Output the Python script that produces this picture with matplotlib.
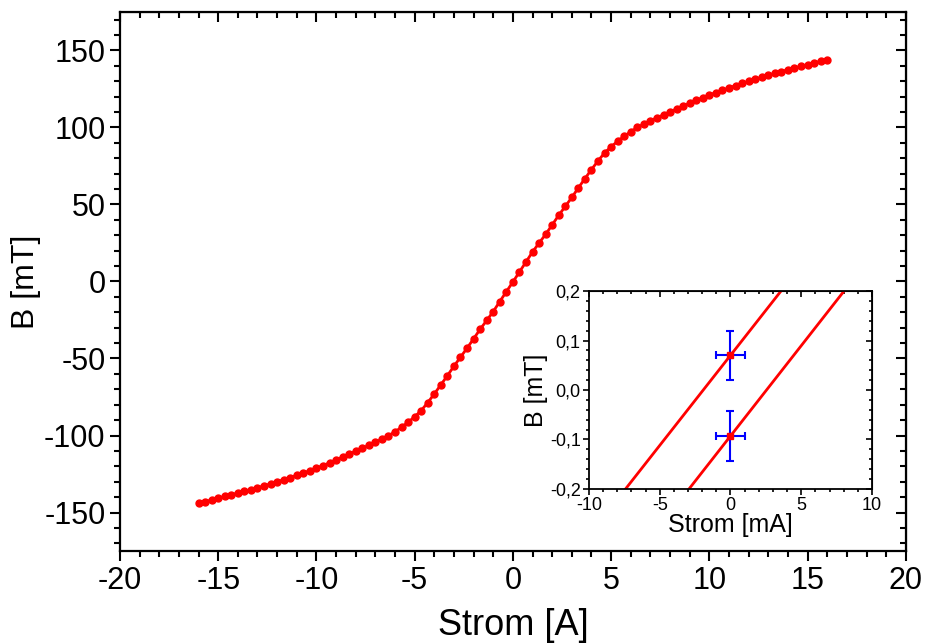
import matplotlib
matplotlib.use("Agg")
import matplotlib.pyplot as plt
from matplotlib.ticker import MultipleLocator, FuncFormatter

plt.rcParams['font.family'] = ['Liberation Sans', 'DejaVu Sans']
plt.rcParams['axes.unicode_minus'] = False

# Hysterese-Messung: Strom [A] und Feld B [mT]
strom = [-16.0, -15.667, -15.333, -15.0, -14.667, -14.333, -14.0, -13.667, -13.333, -13.0,
         -12.667, -12.333, -12.0, -11.667, -11.333, -11.0, -10.667, -10.333, -10.0, -9.667,
         -9.333, -9.0, -8.667, -8.333, -8.0, -7.667, -7.333, -7.0, -6.667, -6.333,
         -6.0, -5.667, -5.333, -5.0, -4.667, -4.333, -4.0, -3.667, -3.333, -3.0,
         -2.667, -2.333, -2.0, -1.667, -1.333, -1.0, -0.667, -0.333, 0.0,
         0.333, 0.667, 1.0, 1.333, 1.667, 2.0, 2.333, 2.667, 3.0, 3.333,
         3.667, 4.0, 4.333, 4.667, 5.0, 5.333, 5.667, 6.0, 6.333, 6.667,
         7.0, 7.333, 7.667, 8.0, 8.333, 8.667, 9.0, 9.333, 9.667, 10.0,
         10.333, 10.667, 11.0, 11.333, 11.667, 12.0, 12.333, 12.667, 13.0, 13.333,
         13.667, 14.0, 14.333, 14.667, 15.0, 15.333, 15.667, 16.0]
feld = [-144.0, -143.0, -141.9, -140.7, -139.6, -138.5, -137.4, -136.3, -135.1, -133.9,
        -132.7, -131.4, -130.1, -128.7, -127.3, -125.9, -124.4, -122.8, -121.2, -119.5,
        -117.8, -115.9, -114.0, -112.1, -110.2, -108.3, -106.4, -104.4, -102.3, -100.1,
        -97.6, -94.6, -91.4, -87.8, -83.8, -78.6, -73.0, -67.1, -61.1, -55.0,
        -49.1, -43.3, -37.2, -31.0, -25.3, -19.5, -13.0, -6.6, -0.3,
        6.2, 12.7, 19.2, 25.0, 30.6, 36.8, 43.0, 48.8, 54.6, 60.8,
        66.8, 72.7, 78.3, 83.5, 87.5, 91.1, 94.3, 97.3, 100.0, 102.2,
        104.3, 106.3, 108.2, 110.1, 112.0, 113.9, 115.8, 117.6, 119.4, 121.1,
        122.7, 124.2, 125.7, 127.2, 128.6, 130.0, 131.3, 132.6, 133.9, 135.1,
        136.3, 137.5, 138.6, 139.7, 140.8, 141.9, 143.0, 144.0]

# Inset: Ausgleichsgeraden um den Nullpunkt [mA], [mT]
fit_strom = [-10.0, 10.0]
fit_auf = [-0.294, 0.434]
fit_ab = [-0.458, 0.272]
null_strom = [0.0, 0.0]
null_feld = [0.07, -0.093]
fehler_strom = [1.0, 1.0]
fehler_feld = [0.05, 0.05]

fig = plt.figure(figsize=(9.3, 6.44), dpi=100)
ax = fig.add_axes([0.129, 0.1444, 0.845, 0.837])
ax.plot(strom, feld, '-o', color='#ff0000', lw=2, ms=5, mec='#ff0000')
ax.set_xlim(-20, 20)
ax.set_ylim(-175, 175)
ax.xaxis.set_major_locator(MultipleLocator(5))
ax.xaxis.set_minor_locator(MultipleLocator(1))
ax.yaxis.set_major_locator(MultipleLocator(50))
ax.yaxis.set_minor_locator(MultipleLocator(10))
ax.tick_params(which='both', direction='out', width=1.5, labelsize=22, top=False, right=False)
ax.tick_params(which='major', length=7)
ax.tick_params(which='minor', length=4)
for s in ax.spines.values():
    s.set_linewidth(1.6)
top = ax.secondary_xaxis('top')
top.xaxis.set_major_locator(MultipleLocator(5))
top.xaxis.set_minor_locator(MultipleLocator(1))
top.tick_params(which='both', direction='in', width=1.5, labeltop=False)
top.tick_params(which='major', length=7)
top.tick_params(which='minor', length=4)
rgt = ax.secondary_yaxis('right')
rgt.yaxis.set_major_locator(MultipleLocator(50))
rgt.yaxis.set_minor_locator(MultipleLocator(10))
rgt.tick_params(which='both', direction='in', width=1.5, labelright=False)
rgt.tick_params(which='major', length=7)
rgt.tick_params(which='minor', length=4)
ax.set_xlabel('Strom [A]', fontsize=26, labelpad=9)
ax.set_ylabel('B [mT]', fontsize=23, labelpad=2)

ins = fig.add_axes([0.6333, 0.2407, 0.3043, 0.3074])
ins.plot(fit_strom, fit_auf, color='#ff0000', lw=2)
ins.plot(fit_strom, fit_ab, color='#ff0000', lw=2)
ins.errorbar(null_strom, null_feld, xerr=fehler_strom, yerr=fehler_feld, fmt='none',
             ecolor='#0000ff', elinewidth=1.5, capsize=3, capthick=1.5)
ins.plot(null_strom, null_feld, 's', color='#ff0000', ms=4)
ins.set_xlim(-10, 10)
ins.set_ylim(-0.2, 0.2)
ins.xaxis.set_major_locator(MultipleLocator(5))
ins.xaxis.set_minor_locator(MultipleLocator(1))
ins.yaxis.set_major_locator(MultipleLocator(0.1))
ins.yaxis.set_minor_locator(MultipleLocator(0.02))
ins.yaxis.set_major_formatter(FuncFormatter(lambda v, p: ('%.1f' % v).replace('.', ',')))
ins.tick_params(which='both', direction='out', width=1.2, labelsize=13, top=False, right=False, pad=2)
ins.tick_params(which='major', length=4)
ins.tick_params(which='minor', length=2.5)
for s in ins.spines.values():
    s.set_linewidth(1.3)
itop = ins.secondary_xaxis('top')
itop.xaxis.set_major_locator(MultipleLocator(5))
itop.xaxis.set_minor_locator(MultipleLocator(1))
itop.tick_params(which='both', direction='in', width=1.2, labeltop=False)
itop.tick_params(which='major', length=4)
itop.tick_params(which='minor', length=2.5)
irgt = ins.secondary_yaxis('right')
irgt.yaxis.set_major_locator(MultipleLocator(0.1))
irgt.yaxis.set_minor_locator(MultipleLocator(0.02))
irgt.tick_params(which='both', direction='in', width=1.2, labelright=False)
irgt.tick_params(which='major', length=4)
irgt.tick_params(which='minor', length=2.5)
ins.set_xlabel('Strom [mA]', fontsize=18, labelpad=-1)
ins.set_ylabel('B [mT]', fontsize=18, labelpad=1)

fig.savefig('out.png', dpi=100)
